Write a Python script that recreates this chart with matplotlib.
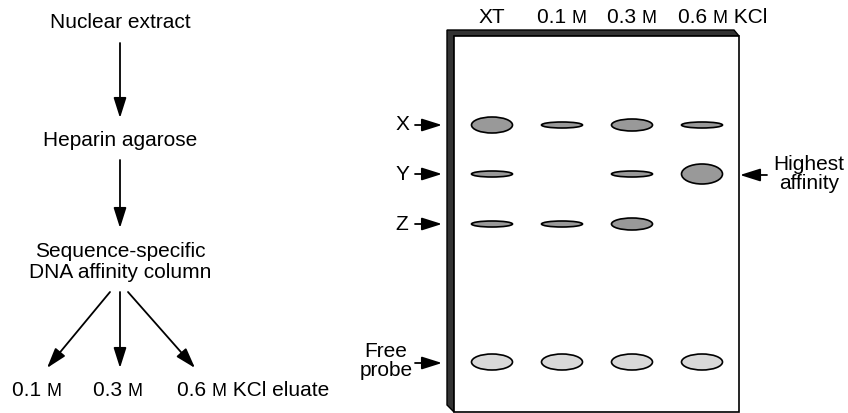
import matplotlib.pyplot as plt
from matplotlib.patches import Ellipse, Polygon, Rectangle

# --- data ---
lane_labels = [['XT'], ['0.1 ', 'M'], ['0.3 ', 'M'], ['0.6 ', 'M', ' KCl']]
band_rows = ['X', 'Y', 'Z']
# band strength per lane for rows X, Y, Z (0 = no band)
band_x = [3, 1, 2, 1]
band_y = [1, 0, 1, 4]
band_z = [1, 1, 2, 0]
free_probe = [3, 3, 3, 3]

flow_steps = ['Nuclear extract', 'Heparin agarose', 'Sequence-specific\nDNA affinity column']
eluates = [['0.1 ', 'M'], ['0.3 ', 'M'], ['0.6 ', 'M', ' KCl eluate']]

# --- layout (pixel coords) ---
W, H = 848, 413
plt.rcParams['font.family'] = ['Liberation Sans', 'DejaVu Sans']
fig = plt.figure(figsize=(W / 100, H / 100), dpi=100)
ax = fig.add_axes([0, 0, 1, 1])
ax.set_xlim(0, W)
ax.set_ylim(H, 0)
ax.axis('off')
renderer = fig.canvas.get_renderer()

fs = 15
fs_sc = 13  # small caps "M"
arrow_kw = dict(arrowstyle='-|>,head_length=0.95,head_width=0.3', color='black',
                lw=1.3, shrinkA=0, shrinkB=0, mutation_scale=13)


def label(x, y_base, parts, ha='center'):
    # draw a label made of pieces; the "M" piece is set smaller (small caps)
    texts = []
    for s in parts:
        size = fs_sc if s == 'M' else fs
        texts.append(ax.text(0, y_base, s, fontsize=size, va='baseline', ha='left'))
    widths = [t.get_window_extent(renderer).width for t in texts]
    x0 = x - sum(widths) / 2 if ha == 'center' else x
    for t, w in zip(texts, widths):
        t.set_x(x0)
        x0 += w


def arrow(x0, y0, x1, y1):
    ax.annotate('', xy=(x1, y1), xytext=(x0, y0), arrowprops=arrow_kw)


# flow chart on the left
cx = 120
ax.text(cx, 22, flow_steps[0], ha='center', va='center', fontsize=fs)
arrow(cx, 43, cx, 118)
ax.text(cx, 140, flow_steps[1], ha='center', va='center', fontsize=fs)
arrow(cx, 160, cx, 228)
ax.text(cx, 262, flow_steps[2], ha='center', va='center', fontsize=fs, linespacing=1.1)

arrow(110, 292, 47, 368)
arrow(cx, 292, cx, 368)
arrow(128, 292, 195, 368)
label(37, 396, eluates[0])
label(118, 396, eluates[1])
label(177, 396, eluates[2], ha='left')

# gel
gl, gr, gt, gb = 454, 739, 36, 412
edge = Polygon([(447, 30), (734, 30), (739, 36), (gl, 36), (gl, gb), (447, gb - 7)],
               closed=True, facecolor='#333333', edgecolor='black', lw=1)
ax.add_patch(edge)
ax.add_patch(Rectangle((gl, gt), gr - gl, gb - gt, facecolor='white',
                       edgecolor='black', lw=1.2))

lane_x = [492 + 70 * i for i in range(len(lane_labels))]
row_y = {'X': 125, 'Y': 174, 'Z': 224}
heights = {1: 6, 2: 12, 3: 16, 4: 20}

for i, parts in enumerate(lane_labels):
    if i < 3:
        label(lane_x[i], 23, parts)
    else:
        label(lane_x[i] - 24, 23, parts, ha='left')

for row, vals in zip(band_rows, [band_x, band_y, band_z]):
    for i, v in enumerate(vals):
        if v == 0:
            continue
        ax.add_patch(Ellipse((lane_x[i], row_y[row]), 41, heights[v],
                             facecolor='#999999', edgecolor='black', lw=1.2))
    ax.text(402, row_y[row], row, ha='center', va='center', fontsize=fs)
    arrow(415, row_y[row], 442, row_y[row])

for i, v in enumerate(free_probe):
    ax.add_patch(Ellipse((lane_x[i], 362), 41, heights[v],
                         facecolor='#d9d9d9', edgecolor='black', lw=1.2))
ax.text(386, 361, 'Free\nprobe', ha='center', va='center', fontsize=fs, linespacing=1.0)
arrow(415, 363, 442, 363)

ax.text(809, 174, 'Highest\naffinity', ha='center', va='center', fontsize=fs, linespacing=1.0)
arrow(767, 175, 740, 175)

fig.savefig('out.png', dpi=100)
